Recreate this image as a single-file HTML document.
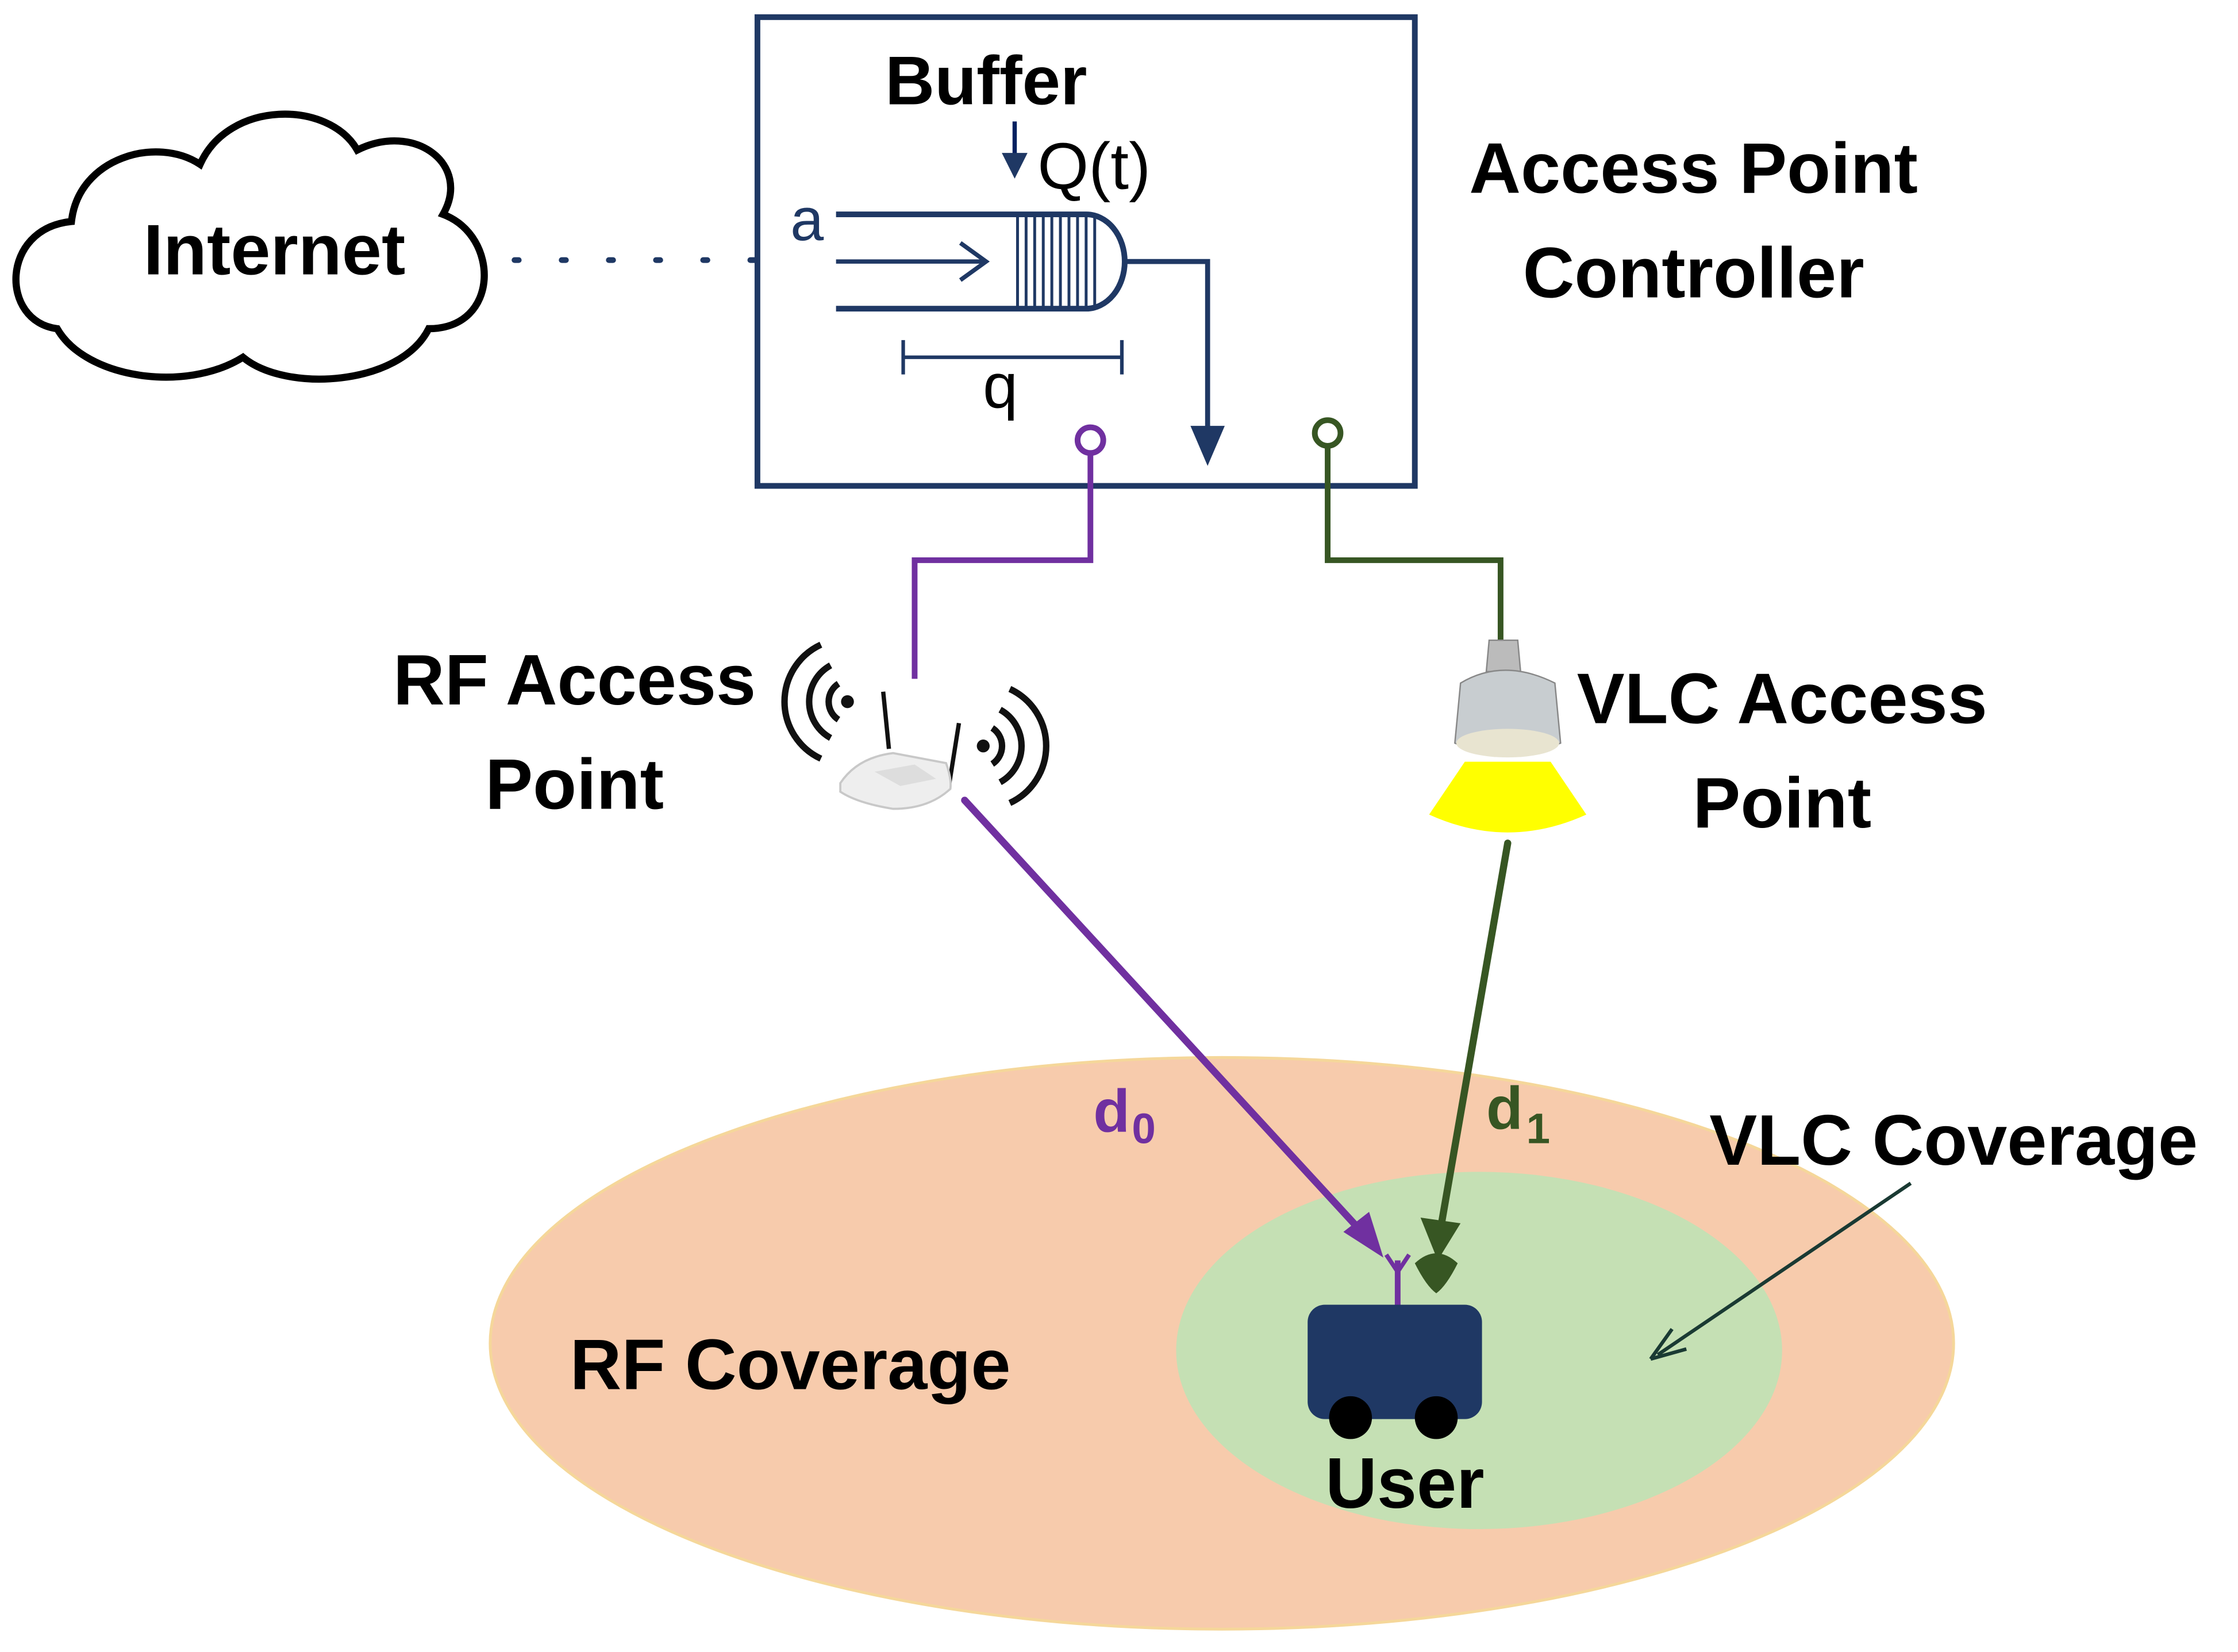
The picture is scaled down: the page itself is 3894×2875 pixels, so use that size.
<!DOCTYPE html>
<html><head><meta charset="utf-8"><style>
html,body{margin:0;padding:0;background:#fff;}
svg{display:block;}
text{font-family:"Liberation Sans",sans-serif;}
</style></head><body>
<svg width="3894" height="2875" viewBox="0 0 1566 1156" preserveAspectRatio="none" xmlns="http://www.w3.org/2000/svg">
<defs>
<marker id="ab" markerWidth="6" markerHeight="6" refX="5" refY="3" orient="auto" markerUnits="strokeWidth"><path d="M0,0 L6,3 L0,6 z" fill="#1f3864"/></marker>
</defs>
<!-- coverage -->
<ellipse cx="855" cy="940" rx="512" ry="200" fill="#f7cbac" stroke="#f5d79a" stroke-width="2"/>
<ellipse cx="1035" cy="945" rx="212" ry="125" fill="#c5e0b4"/>
<text x="553" y="972" font-size="50" font-weight="bold" text-anchor="middle">RF Coverage</text>
<text x="1367" y="815" font-size="50" font-weight="bold" text-anchor="middle">VLC Coverage</text>
<line x1="1337" y1="828" x2="1160" y2="948" stroke="#1a3a33" stroke-width="2.5"/>
<path d="M1155,951 L1170,930 M1155,951 L1180,944" stroke="#1a3a33" stroke-width="2.5" fill="none"/>

<!-- controller -->
<rect x="530" y="12" width="460" height="328" fill="none" stroke="#1f3864" stroke-width="4"/>
<text x="690" y="73" font-size="48" font-weight="bold" text-anchor="middle">Buffer</text>
<line x1="710" y1="85" x2="710" y2="122" stroke="#002060" stroke-width="3" marker-end="url(#ab)"/>
<text x="726" y="132" font-size="46">Q(t)</text>
<text x="553" y="168" font-size="42" fill="#1f3864">a</text>
<path d="M585,150 L760,150 A27,33 0 0 1 760,216 L585,216" fill="none" stroke="#1f3864" stroke-width="4"/>
<g stroke="#1f3864" stroke-width="2">
<line x1="712" y1="150" x2="712" y2="216"/><line x1="718" y1="150" x2="718" y2="216"/><line x1="724" y1="150" x2="724" y2="216"/><line x1="730" y1="150" x2="730" y2="216"/><line x1="736" y1="150" x2="736" y2="216"/><line x1="742" y1="150" x2="742" y2="216"/><line x1="748" y1="150" x2="748" y2="216"/><line x1="754" y1="150" x2="754" y2="216"/><line x1="760" y1="150" x2="760" y2="216"/><line x1="766" y1="152" x2="766" y2="214"/>
</g>
<line x1="585" y1="183" x2="688" y2="183" stroke="#1f3864" stroke-width="3"/>
<path d="M672,170 L690,183 L672,196" fill="none" stroke="#1f3864" stroke-width="3"/>
<path d="M787,183 L845,183 L845,305" fill="none" stroke="#1f3864" stroke-width="3.5"/>
<path d="M833,298 L845,326 L857,298 z" fill="#1f3864"/>
<line x1="632" y1="250" x2="785" y2="250" stroke="#1f3864" stroke-width="2.5"/>
<line x1="632" y1="238" x2="632" y2="262" stroke="#1f3864" stroke-width="2.5"/>
<line x1="785" y1="238" x2="785" y2="262" stroke="#1f3864" stroke-width="2.5"/>
<text x="700" y="285" font-size="44" text-anchor="middle">q</text>
<text x="1185" y="135" font-size="50" font-weight="bold" text-anchor="middle">Access Point</text>
<text x="1185" y="208" font-size="50" font-weight="bold" text-anchor="middle">Controller</text>

<!-- internet -->
<path d="M40,230 C0,225 0,160 50,155 C55,110 110,95 140,115 C160,70 230,70 250,105 C290,85 330,115 310,150 C350,165 350,230 300,230 C280,270 200,275 170,250 C130,275 60,265 40,230 z" fill="#fff" stroke="#000" stroke-width="5"/>
<text x="192" y="192" font-size="50" font-weight="bold" text-anchor="middle">Internet</text>
<line x1="360" y1="182" x2="528" y2="182" stroke="#1f3864" stroke-width="4" stroke-dasharray="3,30" stroke-linecap="round"/>

<!-- connectors -->
<circle cx="763" cy="308" r="9" fill="#fff" stroke="#7030a0" stroke-width="4"/>
<path d="M763,317 L763,392 L640,392 L640,475" fill="none" stroke="#7030a0" stroke-width="4"/>
<circle cx="929" cy="303" r="9" fill="#fff" stroke="#375623" stroke-width="4"/>
<path d="M929,312 L929,392 L1050,392 L1050,450" fill="none" stroke="#375623" stroke-width="4"/>

<text x="402" y="493" font-size="50" font-weight="bold" text-anchor="middle">RF Access</text>
<text x="402" y="566" font-size="50" font-weight="bold" text-anchor="middle">Point</text>
<text x="1247" y="506" font-size="50" font-weight="bold" text-anchor="middle">VLC Access</text>
<text x="1247" y="579" font-size="50" font-weight="bold" text-anchor="middle">Point</text>

<!-- router wifi arcs -->
<g fill="none" stroke="#111" stroke-width="4.5">
<path d="M586.7,478.4 A15,15 0 0 0 586.7,503.6"/>
<path d="M581.2,465.6 A29,29 0 0 0 581.2,516.4"/>
<path d="M574.4,451.1 A44,44 0 0 0 574.4,530.9"/>
<path d="M694.3,509.4 A15,15 0 0 1 694.3,534.6"/>
<path d="M699.8,496.6 A29,29 0 0 1 699.8,547.4"/>
<path d="M706.6,482.1 A44,44 0 0 1 706.6,561.9"/>
</g>
<circle cx="593" cy="491" r="4.5" fill="#111"/>
<circle cx="688" cy="522" r="4.5" fill="#111"/>
<line x1="618" y1="484" x2="622" y2="524" stroke="#111" stroke-width="3"/>
<line x1="671" y1="506" x2="664" y2="550" stroke="#111" stroke-width="3"/>
<path d="M588,548 Q600,530 625,527 L662,534 Q666,545 665,552 Q650,566 625,566 Q600,562 588,554 z" fill="#eee" stroke="#c8c8c8" stroke-width="1.5"/>
<path d="M612,540 L640,535 L655,545 L630,550 z" fill="#ddd"/>
<line x1="675" y1="560" x2="962" y2="872" stroke="#7030a0" stroke-width="5" stroke-linecap="round"/>
<path d="M940,862 L968,880 L958,848 z" fill="#7030a0"/>
<text x="765" y="792" font-size="42" font-weight="bold" fill="#7030a0">d</text>
<text x="792" y="800" font-size="30" font-weight="bold" fill="#7030a0">0</text>

<!-- bulb -->
<path d="M1042,448 L1062,448 L1064,470 L1040,470 z" fill="#bbb" stroke="#888"/>
<path d="M1022,478 Q1052,460 1088,478 L1092,520 Q1055,535 1018,520 z" fill="#c8cdd0" stroke="#888"/>
<ellipse cx="1055" cy="520" rx="36" ry="10" fill="#e8e4d0"/>
<path d="M1025,533 L1085,533 L1110,570 Q1055,595 1000,570 z" fill="#ffff00"/>
<line x1="1055" y1="590" x2="1008" y2="860" stroke="#375623" stroke-width="5" stroke-linecap="round"/>
<path d="M994,852 L1006,882 L1022,856 z" fill="#375623"/>
<text x="1040" y="790" font-size="42" font-weight="bold" fill="#375623">d</text>
<text x="1068" y="800" font-size="30" font-weight="bold" fill="#375623">1</text>

<!-- user -->
<line x1="978" y1="882" x2="978" y2="914" stroke="#7030a0" stroke-width="4"/>
<path d="M970,878 L978,890 L986,878" fill="none" stroke="#7030a0" stroke-width="3"/>
<path d="M990,884 Q1005,870 1020,884 Q1012,900 1005,905 Q998,900 990,884 z" fill="#375623"/>
<rect x="915" y="913" width="122" height="80" rx="12" fill="#1f3864"/>
<circle cx="945" cy="992" r="15" fill="#000"/>
<circle cx="1005" cy="992" r="15" fill="#000"/>
<text x="983" y="1055" font-size="50" font-weight="bold" text-anchor="middle">User</text>
</svg>
</body></html>
